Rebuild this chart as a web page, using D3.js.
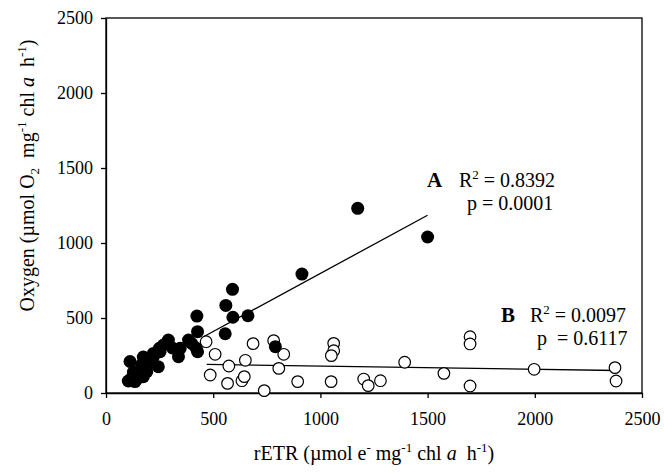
<!DOCTYPE html>
<html>
<head>
<meta charset="utf-8">
<script src="https://cdn.jsdelivr.net/npm/d3@7"></script>
<style>
  body { margin: 0; background: #fff; }
  svg text { font-family: "Liberation Serif", "DejaVu Serif", serif; fill: #000; }
</style>
</head>
<body>
<div id="chart"></div>
<script>
// set A (filled): rETR vs oxygen
const setA = [
  [112, 210], [104, 80], [128, 140], [135, 76], [143, 90], [151, 109], [159, 153],
  [166, 190], [174, 240], [190, 142], [198, 198], [174, 109], [221, 242], [221, 264],
  [244, 175], [252, 275], [249, 298], [268, 320], [291, 353], [338, 242], [346, 298],
  [385, 353], [427, 409], [427, 275], [424, 513], [556, 395], [559, 584], [590, 691],
  [592, 505], [662, 515], [790, 309], [914, 793], [1174, 1231], [1500, 1040],
  [180, 200], [210, 225], [120, 100], [140, 130], [310, 300], [400, 330], [420, 300]
];
// set B (open)
const setB = [
  [467, 342], [509, 258], [486, 120], [573, 180], [567, 64], [634, 82], [645, 109],
  [650, 218], [686, 329], [738, 16], [782, 349], [829, 258], [806, 164], [894, 76],
  [1050, 76], [1062, 331], [1062, 282], [1051, 249], [1202, 93], [1223, 49], [1280, 82],
  [1393, 205], [1576, 131], [1698, 375], [1698, 327], [1698, 47], [1997, 158],
  [2374, 169], [2379, 80]
];
const fitA = [[455, 375], [1500, 1185]];
const fitB = [[470, 191], [2380, 150]];
const xTicks = [0, 500, 1000, 1500, 2000, 2500];
const yTicks = [0, 500, 1000, 1500, 2000, 2500];

const margin = {top: 18, right: 22, bottom: 81, left: 106},
    width = 664 - margin.left - margin.right,
    height = 474 - margin.top - margin.bottom;

const svg = d3.select("#chart")
    .append("svg")
    .attr("width", 664)
    .attr("height", 474)
    .append("g")
    .attr("transform", `translate(${margin.left},${margin.top})`);

const x = d3.scaleLinear().domain([0, 2500]).range([0, width]);
const y = d3.scaleLinear().domain([0, 2500]).range([height, 0]);

// frame
svg.append("rect")
    .attr("width", width).attr("height", height)
    .attr("fill", "none").attr("stroke", "#000").attr("stroke-width", 1.3);

const xAxis = svg.append("g")
    .attr("transform", `translate(0,${height})`)
    .call(d3.axisBottom(x).tickValues(xTicks).tickFormat(d3.format("d"))
        .tickSize(5).tickSizeOuter(0).tickPadding(14));
const yAxis = svg.append("g")
    .call(d3.axisLeft(y).tickValues(yTicks).tickFormat(d3.format("d"))
        .tickSize(5).tickSizeOuter(0).tickPadding(8));
[xAxis, yAxis].forEach(a => {
    a.select(".domain").attr("stroke-width", 1.3);
    a.selectAll(".tick line").attr("stroke-width", 1.3);
    a.selectAll("text").attr("font-size", "18px").attr("font-family", "Liberation Serif");
});

// regression lines
const line = d3.line().x(d => x(d[0])).y(d => y(d[1]));
[fitA, fitB].forEach(f => {
    svg.append("path").attr("d", line(f))
        .attr("fill", "none").attr("stroke", "#000").attr("stroke-width", 1.3);
});

svg.append("g").selectAll("circle")
    .data(setB).enter().append("circle")
    .attr("cx", d => x(d[0])).attr("cy", d => y(d[1]))
    .attr("r", 5.8)
    .attr("fill", "#fff").attr("stroke", "#000").attr("stroke-width", 1.2);

svg.append("g").selectAll("circle")
    .data(setA).enter().append("circle")
    .attr("cx", d => x(d[0])).attr("cy", d => y(d[1]))
    .attr("r", 6.5)
    .attr("fill", "#000");

// annotations
function stat(xl, xr, xp, yp, letter, r2, p) {
    svg.append("text").attr("x", xl).attr("y", yp)
        .attr("font-weight", "bold").attr("font-size", "21px").text(letter);
    const t1 = svg.append("text").attr("x", xr).attr("y", yp).attr("font-size", "20px");
    t1.append("tspan").text("R");
    t1.append("tspan").attr("dy", -8).attr("font-size", "13px").text("2");
    t1.append("tspan").attr("dy", 8).text(" = " + r2);
    svg.append("text").attr("x", xp).attr("y", yp + 23).attr("font-size", "20px")
        .style("white-space", "pre")
        .text(p);
}
stat(321, 353, 361, 169, "A", "0.8392", "p = 0.0001");
stat(395, 424, 431, 304, "B", "0.0097", "p  = 0.6117");

// axis titles
const xt = svg.append("text")
    .attr("x", width / 2).attr("y", height + 67)
    .attr("text-anchor", "middle").attr("font-size", "20px")
    .style("white-space", "pre");
xt.append("tspan").text("rETR (\u00b5mol e");
xt.append("tspan").attr("dy", -8).attr("font-size", "13px").text("-");
xt.append("tspan").attr("dy", 8).text(" mg");
xt.append("tspan").attr("dy", -8).attr("font-size", "13px").text("-1");
xt.append("tspan").attr("dy", 8).text(" chl ");
xt.append("tspan").attr("font-style", "italic").text("a");
xt.append("tspan").text("  h");
xt.append("tspan").attr("dy", -8).attr("font-size", "13px").text("-1");
xt.append("tspan").attr("dy", 8).text(")");

const yt = svg.append("text")
    .attr("transform", `translate(${-72},${height / 2 - 30}) rotate(-90)`)
    .attr("text-anchor", "middle").attr("font-size", "20px")
    .style("white-space", "pre");
yt.append("tspan").text("Oxygen (\u00b5mol O");
yt.append("tspan").attr("dy", 5).attr("font-size", "13px").text("2");
yt.append("tspan").attr("dy", -5).text("  mg");
yt.append("tspan").attr("dy", -8).attr("font-size", "13px").text("-1");
yt.append("tspan").attr("dy", 8).text(" chl ");
yt.append("tspan").attr("font-style", "italic").text("a");
yt.append("tspan").text("  h");
yt.append("tspan").attr("dy", -8).attr("font-size", "13px").text("-1");
yt.append("tspan").attr("dy", 8).text(")");
</script>
</body>
</html>
